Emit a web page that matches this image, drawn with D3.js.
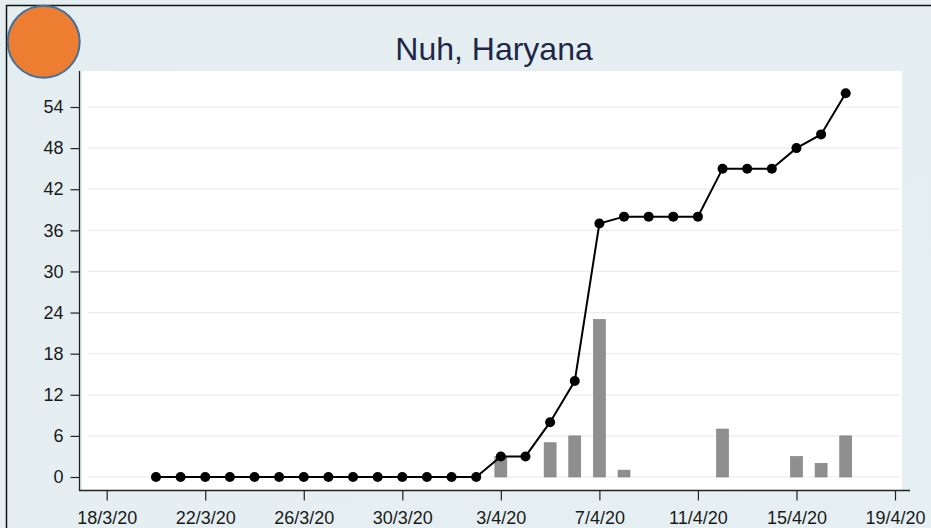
<!DOCTYPE html>
<html>
<head>
<meta charset="utf-8">
<script src="https://cdn.jsdelivr.net/npm/d3@7"></script>
<style>
  html, body { margin: 0; padding: 0; background: #fff; }
  svg { display: block; font-family: "Liberation Sans", Arial, sans-serif; }
</style>
</head>
<body>
<svg id="chart" width="931" height="528"></svg>
<script>
// ---- data ----
const dates = ["2020-03-20","2020-03-21","2020-03-22","2020-03-23","2020-03-24","2020-03-25","2020-03-26",
  "2020-03-27","2020-03-28","2020-03-29","2020-03-30","2020-03-31","2020-04-01","2020-04-02","2020-04-03",
  "2020-04-04","2020-04-05","2020-04-06","2020-04-07","2020-04-08","2020-04-09","2020-04-10","2020-04-11",
  "2020-04-12","2020-04-13","2020-04-14","2020-04-15","2020-04-16","2020-04-17"];
const cumulative = [0,0,0,0,0,0,0,0,0,0,0,0,0,0,3,3,8,14,37,38,38,38,38,45,45,45,48,50,56];
const daily      = [0,0,0,0,0,0,0,0,0,0,0,0,0,0,3,0,5,6,23,1,0,0,0,7,0,0,3,2,6];
const yTicks = [0,6,12,18,24,30,36,42,48,54];
const xTickDates = ["2020-03-18","2020-03-22","2020-03-26","2020-03-30","2020-04-03","2020-04-07","2020-04-11","2020-04-15","2020-04-19"];
const title = "Nuh, Haryana";

const parse = d3.utcParse("%Y-%m-%d");
const fmt = d3.utcFormat("%-d/%-m/%y");
const data = dates.map((d, i) => ({ date: parse(d), cum: cumulative[i], daily: daily[i] }));

const svg = d3.select("#chart");
const W = 931, H = 528;

// background
const defs = svg.append("defs");
const grad = defs.append("linearGradient").attr("id", "bg").attr("x1", 0).attr("y1", 0).attr("x2", 1).attr("y2", 1);
grad.append("stop").attr("offset", "0%").attr("stop-color", "#e4eef1");
grad.append("stop").attr("offset", "100%").attr("stop-color", "#e6f0f3");
svg.append("rect").attr("width", W).attr("height", H).attr("fill", "url(#bg)");

// border (top & left)
svg.append("line").attr("x1", 6).attr("x2", W).attr("y1", 5.5).attr("y2", 5.5).attr("stroke", "#111").attr("stroke-width", 1.5);
svg.append("line").attr("x1", 6.5).attr("x2", 6.5).attr("y1", 5).attr("y2", H).attr("stroke", "#111").attr("stroke-width", 1.5);

// plot region
svg.append("rect").attr("x", 82).attr("y", 71).attr("width", 820).attr("height", 419).attr("fill", "#ffffff");

const x = d3.scaleUtc().domain([parse("2020-03-18"), parse("2020-04-19")]).range([106.7, 895]);
const y = d3.scaleLinear().domain([0, 54]).range([477, 107]);

// gridlines
svg.append("g").selectAll("line").data(yTicks).join("line")
  .attr("x1", 88).attr("x2", 900)
  .attr("y1", d => y(d)).attr("y2", d => y(d))
  .attr("stroke", "#ececec").attr("stroke-width", 1.2);

// bars
const bw = 12;
svg.append("g").selectAll("rect").data(data.filter(d => d.daily > 0)).join("rect")
  .attr("x", d => x(d.date) - bw / 2)
  .attr("width", bw)
  .attr("y", d => y(d.daily))
  .attr("height", d => y(0) - y(d.daily))
  .attr("fill", "#8f8f8f")
  .attr("stroke", "#7f7f7f").attr("stroke-width", 0.6);

// line
svg.append("path").datum(data)
  .attr("d", d3.line().x(d => x(d.date)).y(d => y(d.cum)))
  .attr("fill", "none").attr("stroke", "#000").attr("stroke-width", 2);

svg.append("g").selectAll("circle").data(data).join("circle")
  .attr("cx", d => x(d.date)).attr("cy", d => y(d.cum)).attr("r", 5)
  .attr("fill", "#000");

// axes
const yAxis = d3.axisLeft(y).tickValues(yTicks).tickSize(9).tickPadding(7);
const gy = svg.append("g").attr("transform", "translate(79.5,0)").call(yAxis);
gy.select(".domain").remove();
gy.selectAll(".tick line").attr("stroke", "#222").attr("stroke-width", 1.2);
gy.selectAll("text").attr("font-size", 18).attr("fill", "#1a1a1a").attr("font-family", "Liberation Sans, Arial, sans-serif");
svg.append("line").attr("x1", 79.5).attr("x2", 79.5).attr("y1", 71).attr("y2", 491).attr("stroke", "#222").attr("stroke-width", 1.3);

const xAxis = d3.axisBottom(x).tickValues(xTickDates.map(parse)).tickFormat(fmt).tickSize(10).tickPadding(11);
const gx = svg.append("g").attr("transform", "translate(0,490.5)").call(xAxis);
gx.select(".domain").remove();
gx.selectAll(".tick line").attr("stroke", "#222").attr("stroke-width", 1.2);
gx.selectAll("text").attr("font-size", 18).attr("fill", "#1a1a1a").attr("font-family", "Liberation Sans, Arial, sans-serif");
svg.append("line").attr("x1", 79).attr("x2", 910).attr("y1", 490.5).attr("y2", 490.5).attr("stroke", "#222").attr("stroke-width", 1.3);

// title
svg.append("text").attr("x", 494).attr("y", 60).attr("text-anchor", "middle")
  .attr("font-size", 32).attr("fill", "#1f2748").text(title);

// orange circle
svg.append("circle").attr("cx", 43.7).attr("cy", 41.7).attr("r", 36)
  .attr("fill", "#ed7d31").attr("stroke", "#41719c").attr("stroke-width", 2);
</script>
</body>
</html>
